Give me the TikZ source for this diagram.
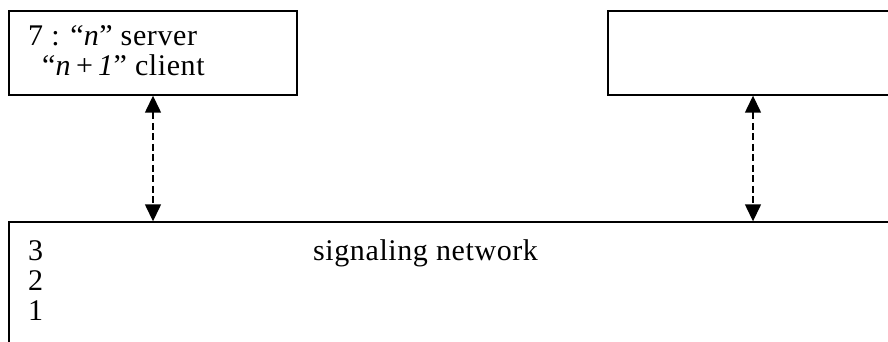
\documentclass[tikz,border=0pt]{standalone}
\usepackage{fontspec}
\setmainfont{Liberation Serif}[LetterSpace=2]
\usetikzlibrary{arrows.meta}
\begin{document}
\begin{tikzpicture}[x=1pt,y=-1pt,
  box/.style={draw, line width=1.4pt, inner sep=0pt},
  txt/.style={inner sep=0pt, anchor=base west, font=\fontsize{30}{30}\selectfont},
  conn/.style={line width=1.4pt, dash pattern=on 7pt off 3.5pt,
    {Triangle[width=16pt,length=17pt]}-{Triangle[width=16pt,length=17pt]}}]
\useasboundingbox (0,0) rectangle (888,342);
\clip (0,0) rectangle (888,342);
\node[box, minimum width=288pt, minimum height=84pt] (tl) at (153,53) {};
\node[box, minimum width=290pt, minimum height=84pt] (tr) at (753,53) {};
\node[box, minimum width=900pt, minimum height=150pt] (bot) at (459,297) {};
\draw[conn] (tl.south) -- (tl.south |- bot.north);
\draw[conn] (tr.south) -- (tr.south |- bot.north);
\node[txt] (t1) at (28,46) {7 : “\textit{n}” server};
\node[txt] (t2) at (42,76) {“\textit{n}\,+\,\textit{1}” client};
\node[txt] (n3) at (28,260) {3};
\node[txt] (n2) at (28,290) {2};
\node[txt] (n1) at (28,320) {1};
\node[txt] (sig) at (313,260) {signaling network};
\end{tikzpicture}
\end{document}
